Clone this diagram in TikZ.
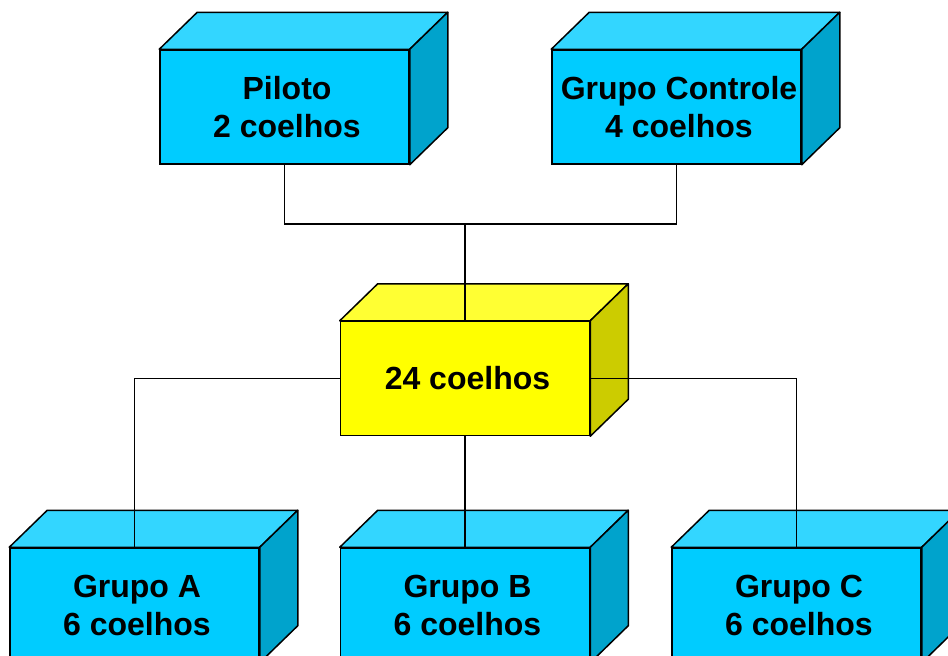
\documentclass[tikz,border=0pt]{standalone}
\usepackage{fontspec}
\setmainfont{Liberation Sans}
\definecolor{cfront}{HTML}{00CCFF}
\definecolor{ctop}{HTML}{33D6FF}
\definecolor{cside}{HTML}{00A3CC}
\definecolor{yfront}{HTML}{FFFF00}
\definecolor{ytop}{HTML}{FFFF33}
\definecolor{yside}{HTML}{CCCC00}
\tikzset{
  frontface/.style={draw=black, line width=1.5pt, fill=#1, minimum width=249pt, minimum height=114pt,
    inner sep=0pt},
  boxtext/.style={label={[inner sep=0pt, align=center, xshift=2.5pt,
    font=\bfseries\fontsize{32}{38}\selectfont]center:#1}},
  face/.style={draw=black, line width=1.5pt, line join=round, fill=#1},
  link/.style={draw=black, line width=1.6pt}
}
\newcommand\depthfaces[3]{%
  \path[face=#2] (#1.north west) -- ++(38,-37) -- ([shift={(38,-37)}]#1.north east) -- (#1.north east) -- cycle;
  \path[face=#3] (#1.north east) -- ++(38,-37) -- ([shift={(38,-37)}]#1.south east) -- (#1.south east) -- cycle;
}
\begin{document}
\begin{tikzpicture}[x=1pt,y=-1pt]
\useasboundingbox (0,0) rectangle (948,656);
\clip (0,0) rectangle (948,656);
\node[frontface=cfront, boxtext={Piloto\\2 coelhos}] (pil) at (284.5,107) {};
\depthfaces{pil}{ctop}{cside}
\node[frontface=cfront, boxtext={Grupo Controle\\4 coelhos}] (gctl) at (676.5,107) {};
\depthfaces{gctl}{ctop}{cside}
\node[frontface=yfront, boxtext={24 coelhos}] (mid) at (465,378.5) {};
\depthfaces{mid}{ytop}{yside}
\node[frontface=cfront, boxtext={Grupo A\\6 coelhos}] (ga) at (134.5,605) {};
\depthfaces{ga}{ctop}{cside}
\node[frontface=cfront, boxtext={Grupo B\\6 coelhos}] (gb) at (465,605) {};
\depthfaces{gb}{ctop}{cside}
\node[frontface=cfront, boxtext={Grupo C\\6 coelhos}] (gc) at (796.5,605) {};
\depthfaces{gc}{ctop}{cside}
\coordinate (j) at (465,224);
\draw[link] (pil.south) |- (j) -| (gctl.south);
\draw[link] (j) -- (mid.north);
\draw[link] (mid.west) -| (ga.north);
\draw[link] (mid.east) -| (gc.north);
\draw[link] (mid.south) -- (gb.north);
\end{tikzpicture}
\end{document}
